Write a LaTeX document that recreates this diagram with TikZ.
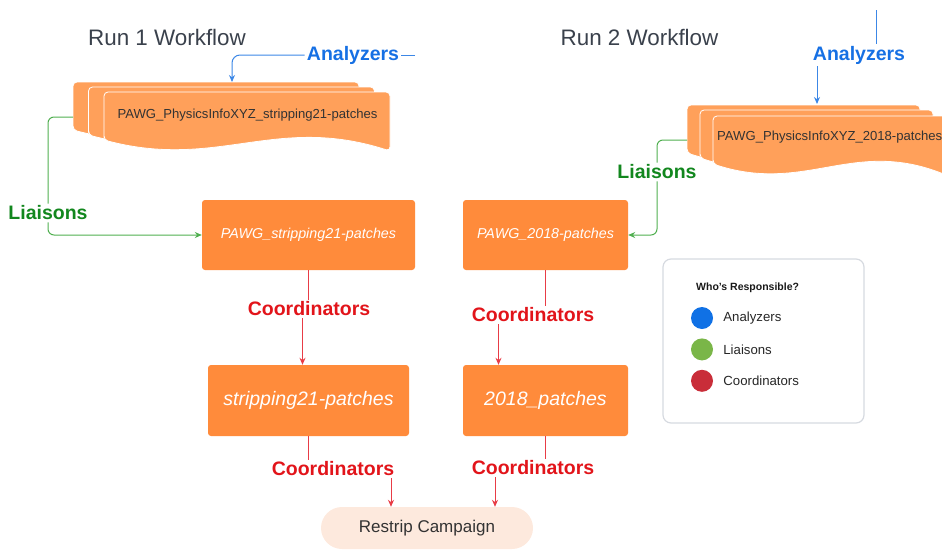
\documentclass[tikz,border=0pt]{standalone}
\usepackage{fontspec}
\setmainfont{Liberation Sans}
\usetikzlibrary{arrows.meta,positioning}
\definecolor{runtitle}{RGB}{58,65,76}
\definecolor{anablue}{RGB}{22,112,228}
\definecolor{anaedge}{RGB}{60,135,230}
\definecolor{liagreen}{RGB}{18,135,30}
\definecolor{liaedge}{RGB}{80,175,80}
\definecolor{crdred}{RGB}{226,20,26}
\definecolor{crdedge}{RGB}{232,60,70}
\definecolor{patchorange}{RGB}{255,139,59}
\definecolor{sheetorange}{RGB}{255,160,90}
\definecolor{campaignfill}{RGB}{253,233,221}
\definecolor{doctext}{RGB}{51,51,51}
\definecolor{legendline}{RGB}{214,218,224}
\definecolor{dotblue}{RGB}{16,113,229}
\definecolor{dotgreen}{RGB}{122,182,72}
\definecolor{dotred}{RGB}{201,45,57}
\tikzset{
    %Define standard arrow tip
    >={Stealth[length=7pt,width=6pt]},
    %Define style for the orange boxes
    patch/.style={
           rectangle,
           rounded corners=3,
           fill=patchorange,
           text=white,
           font=\fontsize{14.3}{16}\selectfont\itshape,
           minimum height=70},
    bigpatch/.style={
           patch,
           font=\fontsize{19.5}{22}\selectfont\itshape,
           minimum height=71},
    % paper sheets of the document stacks
    sheet/.style={
           fill=sheetorange,
           draw=white,
           line width=0.8,
           rounded corners=4},
    doclabel/.style={
           text=doctext,
           inner sep=0,
           font=\fontsize{13.1}{15}\selectfont},
    runlabel/.style={
           text=runtitle,
           font=\fontsize{22.4}{26}\selectfont},
    % who does the step
    role/.style={
           fill=white,
           inner sep=2,
           font=\fontsize{19.5}{22}\selectfont\bfseries},
    anaflow/.style={draw=anaedge, line width=1},
    liaflow/.style={draw=liaedge, line width=1, rounded corners=6},
    crdflow/.style={draw=crdedge, line width=1},
    campaign/.style={
           rectangle,
           rounded corners=21,
           fill=campaignfill,
           text=doctext,
           minimum width=212,
           minimum height=42,
           font=\fontsize{17}{20}\selectfont},
    % legend
    legendbox/.style={
           rectangle,
           rounded corners=8,
           draw=legendline,
           line width=1.2,
           minimum width=201,
           minimum height=164},
    dot/.style={circle, minimum size=22, inner sep=0},
    legendlbl/.style={inner sep=0, text=black!85, font=\fontsize{13.2}{15}\selectfont}
}
\begin{document}
\begin{tikzpicture}[x=1pt,y=-1pt]
  \useasboundingbox (0,0) rectangle (942,549);
  \clip (0,0) rectangle (942,549);

  \node[runlabel] (run1) at (167,37) {Run 1 Workflow};
  \node[runlabel] (run2) at (639.5,37) {Run 2 Workflow};

  % document stacks
  \begin{scope}[shift={(73,82)}]
    \foreach \dx/\dy in {0/0,15.5/5,31/10}
      \filldraw[sheet,shift={(\dx,\dy)}] (0,48) -- (0,0) -- (286,0) -- (286,59)
        .. controls (0.6*286,22) and (0.4*286,78) .. (0,48) -- cycle;
  \end{scope}
  \begin{scope}[shift={(687,105)}]
    \foreach \dx/\dy in {0/0,13/5,26/11}
      \filldraw[sheet,shift={(\dx,\dy)}] (0,48) -- (0,0) -- (233,0) -- (233,59)
        .. controls (0.6*233,22) and (0.4*233,78) .. (0,48) -- cycle;
  \end{scope}
  \node[doclabel] (doc21) at (247.5,115) {PAWG\_PhysicsInfoXYZ\_stripping21-patches};
  \node[doclabel,anchor=west] (doc18) at (717,137) {PAWG\_PhysicsInfoXYZ\_2018-patches};
  \coordinate (doc21top) at (232,82);
  \coordinate (doc21side) at (73,117);
  \coordinate (doc18top) at (817,104);
  \coordinate (doc18side) at (687,140);

  % patch boxes
  \node[patch,minimum width=213] (pawg21) at (308.5,235) {PAWG\_stripping21-patches};
  \node[patch,minimum width=165] (pawg18) at (545.5,235) {PAWG\_2018-patches};
  \node[bigpatch,minimum width=201] (strip21) at (308.5,400.5) {stripping21-patches};
  \node[bigpatch,minimum width=165] (p18) at (545.5,400.5) {2018\_patches};
  \node[campaign] (restrip) at (427,528) {Restrip Campaign};

  % Analyzers
  \coordinate (ana1start) at (415,55);
  \node[role,text=anablue] (ana1) at (353,55) {Analyzers};
  \draw[anaflow] (ana1start) -- (ana1);
  \draw[anaflow,->,rounded corners=8] (ana1) -| (doc21top);
  \coordinate (ana2start) at (876,10);
  \node[role,text=anablue] (ana2) at (859,55) {Analyzers};
  \draw[anaflow] (ana2start) -- (ana2start |- ana2.north);
  \draw[anaflow,->] (ana2.south -| doc18top) -- (doc18top);

  % Liaisons
  \node[role,text=liagreen] (lia1) at (48,213) {Liaisons};
  \draw[liaflow] (doc21side) -| (lia1);
  \draw[liaflow,->] (lia1) |- (pawg21);
  \node[role,text=liagreen] (lia2) at (657,172) {Liaisons};
  \draw[liaflow] (doc18side) -| (lia2);
  \draw[liaflow,->] (lia2) |- (pawg18);

  % Coordinators
  \node[role,text=crdred] (crd1) at (309,309) {Coordinators};
  \draw[crdflow] (pawg21.south) -- (pawg21.south |- crd1.north);
  \draw[crdflow,->] ([xshift=-6pt]strip21.north |- crd1.south) -- ([xshift=-6pt]strip21.north);
  \node[role,text=crdred] (crd2) at (533,315) {Coordinators};
  \draw[crdflow] (pawg18.south) -- (pawg18.south |- crd2.north);
  \draw[crdflow,->] ([xshift=-47pt]p18.north |- crd2.south) -- ([xshift=-47pt]p18.north);
  \node[role,text=crdred] (crd3) at (333,469) {Coordinators};
  \draw[crdflow] (strip21.south) -- (strip21.south |- crd3.north);
  \draw[crdflow,->] ([xshift=-36pt]restrip.north |- crd3.south) -- ([xshift=-36pt]restrip.north);
  \node[role,text=crdred] (crd4) at (533,468) {Coordinators};
  \draw[crdflow] (p18.south) -- (p18.south |- crd4.north);
  \draw[crdflow,->] ([xshift=68pt]restrip.north |- crd4.south) -- ([xshift=68pt]restrip.north);

  % legend
  \node[legendbox] (legend) at (763.5,341) {};
  \node[anchor=west,inner sep=0,text=black!90,font=\fontsize{10.5}{12}\selectfont\bfseries] (who) at (696,288) {Who's Responsible?};
  \node[dot,fill=dotblue] (dotana) at (702,318) {};
  \node[dot,fill=dotgreen,below=9pt of dotana] (dotlia) {};
  \node[dot,fill=dotred,below=9pt of dotlia] (dotcrd) {};
  \node[legendlbl,right=10pt of dotana] (lblana) {Analyzers};
  \node[legendlbl,right=10pt of dotlia] (lbllia) {Liaisons};
  \node[legendlbl,right=10pt of dotcrd] (lblcrd) {Coordinators};
\end{tikzpicture}
\end{document}
